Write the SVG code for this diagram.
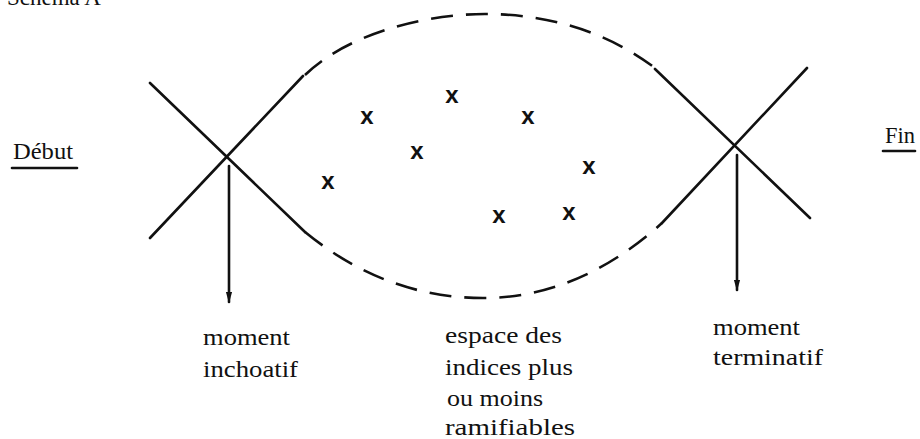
<svg xmlns="http://www.w3.org/2000/svg" width="920" height="439" viewBox="0 0 920 439">
<defs>
<marker id="ah" viewBox="0 0 10 10" refX="9" refY="5" markerWidth="11" markerHeight="11" markerUnits="userSpaceOnUse" orient="auto">
<path d="M0,2.2 L10,5 L0,7.8 Z" fill="#111"/>
</marker>
</defs>
<style>
.ln{stroke:#111;stroke-width:2.6;fill:none;stroke-linecap:round}
.dash{stroke:#111;stroke-width:2.6;fill:none;stroke-dasharray:22 13}
.lbl{font-family:"Liberation Serif","DejaVu Serif",serif;font-size:23px;fill:#111}
.xm{font-family:"Liberation Sans",Arial,sans-serif;font-size:24px;font-weight:bold;fill:#111;text-anchor:middle}
</style>
<rect width="920" height="439" fill="#fff"/>
<text class="lbl" x="7" y="5">Schéma A</text>
<g id="debut">
<text class="lbl" x="13" y="159" font-size="20" textLength="60" lengthAdjust="spacingAndGlyphs">Début</text>
<line class="ln" x1="12" y1="168" x2="77" y2="168" stroke-width="2"/>
</g>
<g id="fin">
<text class="lbl" x="885" y="143" font-size="20" textLength="30" lengthAdjust="spacingAndGlyphs">Fin</text>
<line class="ln" x1="883" y1="151" x2="915" y2="151" stroke-width="2"/>
</g>
<g id="cross-left">
<line class="ln" x1="150" y1="83" x2="305" y2="232"/>
<line class="ln" x1="150" y1="238" x2="303" y2="76"/>
</g>
<g id="cross-right">
<line class="ln" x1="655" y1="69" x2="810" y2="218"/>
<line class="ln" x1="662" y1="223" x2="807" y2="68"/>
</g>
<g id="espace">
<path class="dash" d="M305,75 C345,36 420,14 485,14 C545,14 605,30 655,68"/>
<path class="dash" d="M305,232 C360,277 420,298 483,298 C550,298 610,270 662,223"/>
<text class="xm" x="328" y="189">x</text>
<text class="xm" x="367" y="124">x</text>
<text class="xm" x="452" y="103">x</text>
<text class="xm" x="417" y="159">x</text>
<text class="xm" x="528" y="124">x</text>
<text class="xm" x="589" y="174">x</text>
<text class="xm" x="499" y="223">x</text>
<text class="xm" x="569" y="220">x</text>
</g>
<g id="connectors">
<line class="ln" x1="229" y1="166" x2="229" y2="302" marker-end="url(#ah)"/>
<line class="ln" x1="737" y1="155" x2="737" y2="290" marker-end="url(#ah)"/>
</g>
<g id="label-inchoatif">
<text class="lbl" x="203" y="345" textLength="87" lengthAdjust="spacingAndGlyphs">moment</text>
<text class="lbl" x="203" y="377" textLength="95" lengthAdjust="spacingAndGlyphs">inchoatif</text>
</g>
<g id="label-espace">
<text class="lbl" x="445" y="343" textLength="117" lengthAdjust="spacingAndGlyphs">espace des</text>
<text class="lbl" x="445" y="375" textLength="128" lengthAdjust="spacingAndGlyphs">indices plus</text>
<text class="lbl" x="447" y="406" textLength="96" lengthAdjust="spacingAndGlyphs">ou moins</text>
<text class="lbl" x="445" y="435" textLength="130" lengthAdjust="spacingAndGlyphs">ramifiables</text>
</g>
<g id="label-terminatif">
<text class="lbl" x="713" y="335" textLength="87" lengthAdjust="spacingAndGlyphs">moment</text>
<text class="lbl" x="713" y="365" textLength="110" lengthAdjust="spacingAndGlyphs">terminatif</text>
</g>
</svg>
